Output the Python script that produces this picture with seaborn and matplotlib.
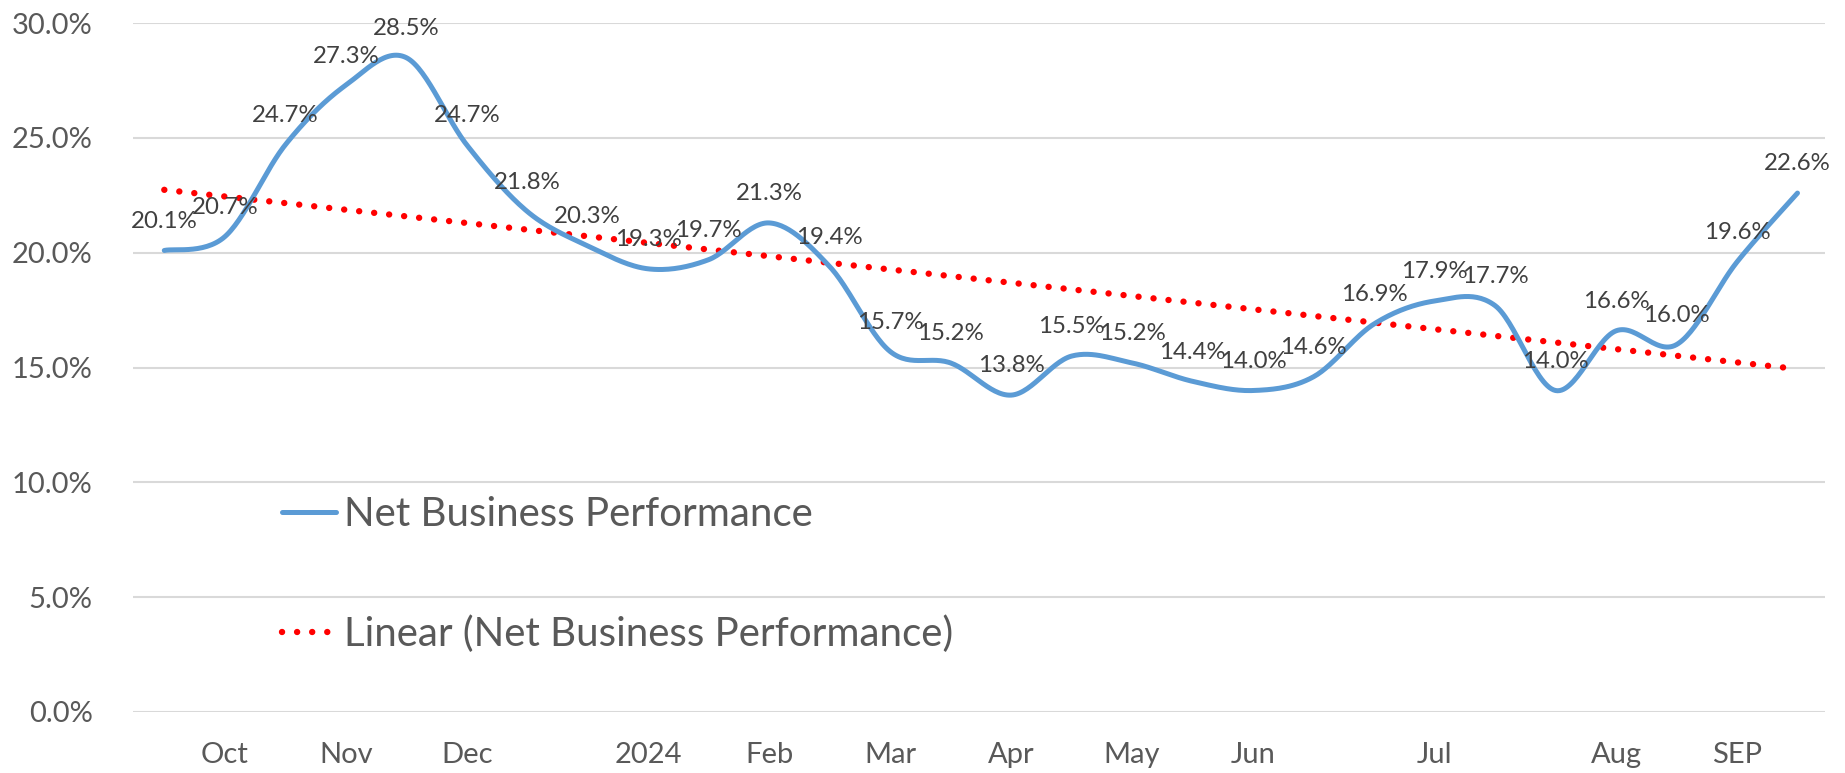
import numpy as np
import pandas as pd
import matplotlib
matplotlib.use("Agg")
import matplotlib.pyplot as plt
import seaborn as sns
from matplotlib.lines import Line2D
from matplotlib.ticker import PercentFormatter

# bi-weekly readings, Sep 2023 - Sep 2024 (category axis, only some labelled)
period_labels = ["", "Oct", "", "Nov", "", "Dec", "", "", "2024", "", "Feb", "",
                 "Mar", "", "Apr", "", "May", "", "Jun", "", "", "Jul", "", "",
                 "Aug", "", "SEP", ""]
net_perf = [20.1, 20.7, 24.7, 27.3, 28.5, 24.7, 21.8, 20.3, 19.3, 19.7, 21.3, 19.4,
            15.7, 15.2, 13.8, 15.5, 15.2, 14.4, 14.0, 14.6, 16.9, 17.9, 17.7, 14.0,
            16.6, 16.0, 19.6, 22.6]
series_name = "Net Business Performance"
trend_name = "Linear (Net Business Performance)"

BLUE = "#5B9BD5"
RED = "#FF0000"
GRID = "#D9D9D9"
TXT = "#595959"


def _smooth(x, y, n=30):
    """excel-ish smoothed line: cubic bezier, catmull-rom control points"""
    p = np.column_stack([x, y]).astype(float)
    pp = np.vstack([p[0], p, p[-1]])
    t = np.linspace(0, 1, n, endpoint=False)[:, None]
    out = []
    for i in range(len(p) - 1):
        p0, p3 = pp[i + 1], pp[i + 2]
        c1 = p0 + (pp[i + 2] - pp[i]) / 6.0
        c2 = p3 - (pp[i + 3] - pp[i + 1]) / 6.0
        seg = ((1 - t) ** 3) * p0 + 3 * ((1 - t) ** 2) * t * c1 \
            + 3 * (1 - t) * t ** 2 * c2 + t ** 3 * p3
        out.append(seg)
    out.append(p[-1][None, :])
    out = np.vstack(out)
    return out[:, 0], out[:, 1]


df = pd.DataFrame({"idx": np.arange(len(net_perf)), "value": net_perf})
coef = np.polyfit(df["idx"], df["value"], 1)
df["trend"] = np.polyval(coef, df["idx"])
sx, sy = _smooth(df["idx"], df["value"])

sns.set_theme(style="white")
plt.rcParams["font.family"] = ["Lato", "DejaVu Sans"]

fig = plt.figure(figsize=(18.45, 7.73), dpi=100)
ax = fig.add_axes([0.072, 0.079, 0.917, 0.891])

dot_style = (0, (0.01, 2.35))
sns.lineplot(x=df["idx"], y=df["trend"], ax=ax, color=RED, linewidth=4.6,
             linestyle=dot_style, dash_capstyle="round", zorder=3)
sns.lineplot(x=sx, y=sy, ax=ax, color=BLUE, linewidth=3.6, sort=False,
             estimator=None, zorder=4)

for i, v in zip(df["idx"], df["value"]):
    ax.annotate(f"{v:.1f}%", (i, v), xytext=(0, 21), textcoords="offset points",
                ha="center", va="center", fontsize=17.3, color="#404040", zorder=5)

ax.set_xlim(-0.52, 27.45)
ax.set_ylim(0, 30)
ax.set_yticks(np.arange(0, 31, 5))
ax.yaxis.set_major_formatter(PercentFormatter(decimals=1))
tick_pos = [i for i, s in enumerate(period_labels) if s]
ax.set_xticks(tick_pos)
ax.set_xticklabels([period_labels[i] for i in tick_pos])
ax.tick_params(axis="y", length=0, pad=29, labelsize=21, labelcolor=TXT)
ax.tick_params(axis="x", length=0, pad=22, labelsize=21, labelcolor=TXT)
ax.yaxis.grid(True, color=GRID, linewidth=1.5)
ax.set_axisbelow(True)
ax.set_xlabel("")
ax.set_ylabel("")
sns.despine(ax=ax, left=True, bottom=True)

handles = [Line2D([], [], color=BLUE, linewidth=3.6),
           Line2D([], [], color=RED, linewidth=4.6, linestyle=dot_style,
                  dash_capstyle="round")]
ax.legend(handles, [series_name, trend_name], loc="center left",
          bbox_to_anchor=(0.088, 0.199), frameon=False, fontsize=29,
          labelcolor=TXT, handlelength=1.35, handletextpad=0.2,
          labelspacing=2.05, borderpad=0, borderaxespad=0)

fig.savefig("out.png", dpi=100)
